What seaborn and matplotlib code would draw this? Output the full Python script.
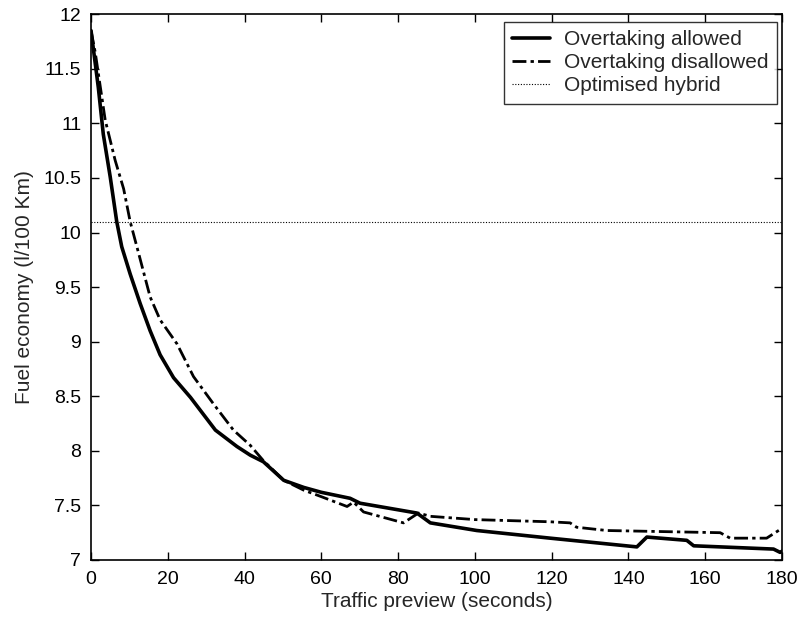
import matplotlib
matplotlib.use('Agg')
import matplotlib.pyplot as plt
import seaborn as sns

# data
allowed_x = [0, 1.9, 3.2, 5.0, 6.7, 8.0, 10.2, 12.8, 15.4, 18, 21.5, 25.9, 28.5, 32.4,
             38, 41.5, 44.9, 50.2, 55.4, 60, 67.5, 70.1, 84.9, 88.4, 100.5, 119.6,
             142.2, 144.8, 155.2, 157, 177.8, 179.5, 180]
allowed_y = [11.85, 11.33, 10.9, 10.51, 10.1, 9.87, 9.62, 9.35, 9.1, 8.88, 8.67, 8.49,
             8.37, 8.19, 8.04, 7.96, 7.9, 7.73, 7.665, 7.62, 7.565, 7.52, 7.43, 7.34, 7.27,
             7.2, 7.12, 7.21, 7.18, 7.13, 7.1, 7.07, 7.08]

disallowed_x = [0, 1.1, 3.7, 6.3, 8.5, 10.2, 12.4, 15.4, 18, 22.4, 26.7, 31.9, 37.1, 41.5, 44.9,
                50.2, 55.4, 60, 66.7, 68.4, 71, 81.4, 85.3, 88.4, 100, 119.6, 124.8, 126.5,
                134.4, 163.9, 166.5, 176, 180]
disallowed_y = [11.85, 11.65, 11.03, 10.66, 10.4, 10.1, 9.81, 9.41, 9.2, 8.98, 8.68, 8.43,
                8.19, 8.05, 7.91, 7.73, 7.64, 7.58, 7.49, 7.53, 7.44, 7.34, 7.43, 7.40, 7.37,
                7.35, 7.34, 7.30, 7.27, 7.25, 7.20, 7.20, 7.29]

hybrid_x = [0, 180]
hybrid_y = [10.1, 10.1]

x_ticks = [0, 20, 40, 60, 80, 100, 120, 140, 160, 180]
y_ticks = [7, 7.5, 8, 8.5, 9, 9.5, 10, 10.5, 11, 11.5, 12]
y_tick_labels = ['7', '7.5', '8', '8.5', '9', '9.5', '10', '10.5', '11', '11.5', '12']

sns.set_style('ticks')
plt.rcParams['font.family'] = ['Liberation Sans', 'DejaVu Sans']

fig = plt.figure(figsize=(8.09, 6.17), dpi=100)
ax = fig.add_axes([0.1125, 0.0924, 0.8541, 0.8846])

sns.lineplot(x=allowed_x, y=allowed_y, ax=ax, color='black', linewidth=2.6,
             label='Overtaking allowed')
sns.lineplot(x=disallowed_x, y=disallowed_y, ax=ax, color='black', linewidth=2.0,
             linestyle=(0, (5, 1.5, 1.2, 1.5)), label='Overtaking disallowed')
sns.lineplot(x=hybrid_x, y=hybrid_y, ax=ax, color='black', linewidth=0.8,
             linestyle=(0, (1, 1.5)), label='Optimised hybrid')

ax.set_xlim(0, 180)
ax.set_ylim(7, 12)
ax.set_xticks(x_ticks)
ax.set_yticks(y_ticks)
ax.set_yticklabels(y_tick_labels)
ax.tick_params(direction='in', top=True, right=True, labelsize=14, length=6, width=1,
               colors='black')
ax.tick_params(axis='x', pad=8)
ax.tick_params(axis='y', pad=7)
for s in ax.spines.values():
    s.set_color('black')
    s.set_linewidth(1.2)

ax.set_xlabel('Traffic preview (seconds)', fontsize=15, labelpad=3)
ax.set_ylabel('Fuel economy (l/100 Km)', fontsize=15, labelpad=7)

leg = ax.legend(loc='upper right', fontsize=15, frameon=True, fancybox=False,
                edgecolor='black', handlelength=1.8, handletextpad=0.7, borderpad=0.4,
                labelspacing=0.2, borderaxespad=0, bbox_to_anchor=(0.9928, 0.986))
leg.get_frame().set_linewidth(1.0)

fig.savefig('out.png', dpi=100)
